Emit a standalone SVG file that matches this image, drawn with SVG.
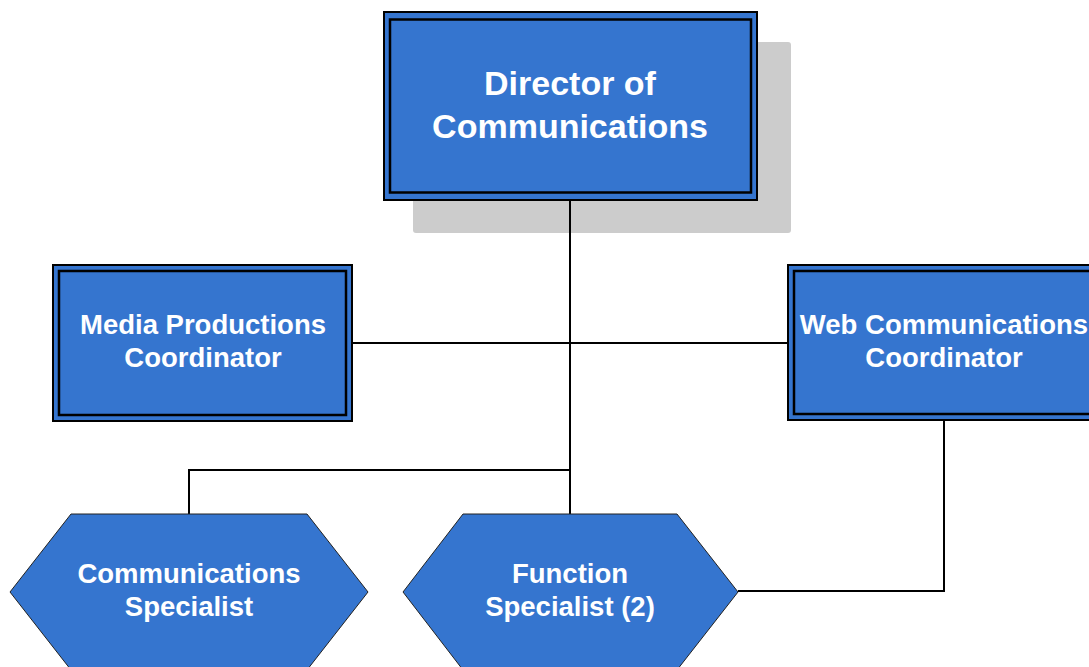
<svg xmlns="http://www.w3.org/2000/svg" width="1089" height="667" viewBox="0 0 1089 667">
<style>
.box{fill:#3575cf;stroke:#000;stroke-width:2}
.in{fill:none;stroke:#000;stroke-width:2.5}
.hex{fill:#3575cf;stroke:#222;stroke-width:1}
.t{font-family:"Liberation Sans",Arial,sans-serif;font-weight:bold;fill:#fff;text-anchor:middle}
.conn{fill:none;stroke:#000;stroke-width:2}
</style>
<rect x="0" y="0" width="1089" height="667" fill="#fff"/>
<g id="director">
<rect x="413" y="42" width="378" height="191" rx="3" fill="#cccccc"/>
<rect class="box" x="384" y="12" width="373" height="188"/>
<rect class="in" x="390" y="19.5" width="361" height="173"/>
<text class="t" font-size="34" x="570" y="95">Director of</text>
<text class="t" font-size="34" x="570" y="138">Communications</text>
</g>
<g id="connectors">
<path class="conn" d="M570,201 V514"/>
<path class="conn" d="M353,343 H788"/>
<path class="conn" d="M570,470 H189 V514"/>
<path class="conn" d="M944,421 V591 H738"/>
</g>
<g id="media">
<rect class="box" x="53" y="265" width="299" height="156"/>
<rect class="in" x="59" y="271" width="287" height="144"/>
<text class="t" font-size="27.5" x="203" y="334">Media Productions</text>
<text class="t" font-size="27.5" x="203" y="367">Coordinator</text>
</g>
<g id="web">
<rect class="box" x="788" y="265" width="313" height="155"/>
<rect class="in" x="794" y="271" width="301" height="143"/>
<text class="t" font-size="27.5" x="944" y="334">Web Communications</text>
<text class="t" font-size="27.5" x="944" y="367">Coordinator</text>
</g>
<g id="comm-specialist">
<polygon class="hex" points="71,514 307,514 368,592 307,670 71,670 10,592"/>
<text class="t" font-size="27.5" x="189" y="583">Communications</text>
<text class="t" font-size="27.5" x="189" y="616">Specialist</text>
</g>
<g id="function-specialist">
<polygon class="hex" points="463,514 677,514 738,592 677,670 463,670 403,592"/>
<text class="t" font-size="27.5" x="570" y="583">Function</text>
<text class="t" font-size="27.5" x="570" y="616">Specialist (2)</text>
</g>
</svg>
